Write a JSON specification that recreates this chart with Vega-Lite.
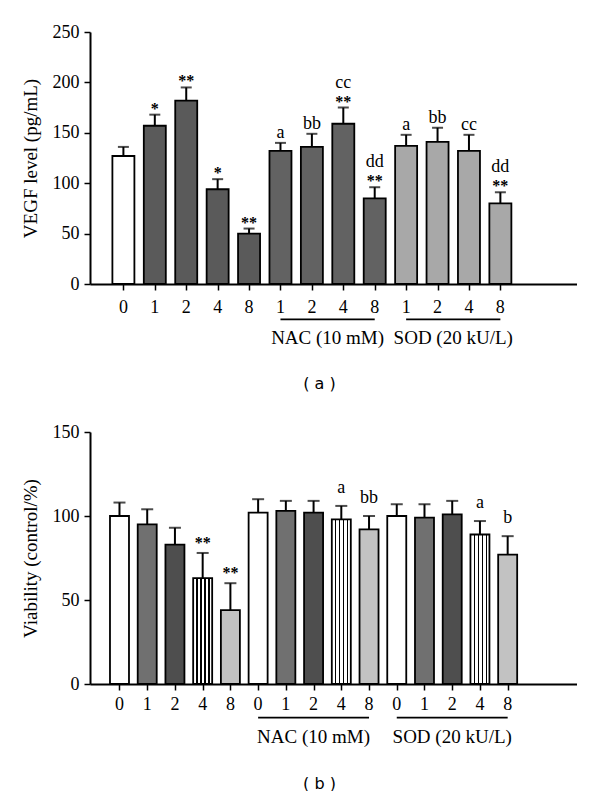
{
  "$schema": "https://vega.github.io/schema/vega-lite/v6.json",
  "padding": {"left": 21, "top": 23, "right": 0, "bottom": 0},
  "spacing": 32,
  "resolve": {"scale": {"fill": "independent"}},
  "config": {
    "view": {"stroke": null},
    "axis": {"grid": false, "domainColor": "black", "domainWidth": 2, "tickColor": "black", "tickWidth": 1.5, "tickSize": 6,
      "labelFont": "Liberation Serif", "labelFontSize": 18, "labelColor": "black",
      "titleFont": "Liberation Serif", "titleFontSize": 19, "titleFontWeight": "normal", "titleColor": "black"},
    "axisY": {"labelPadding": 5, "titlePadding": 12},
    "axisX": {"labels": false, "titleFont": "DejaVu Sans", "titleFontSize": 16, "titleBaseline": "middle", "titleAlign": "center", "titleY": 99, "titleX": 229},
    "text": {"font": "Liberation Serif", "color": "black"}
  },
  "datasets": {
    "vegf": [
      {"pos": 0, "conc": "0", "group": "", "pattern": "open", "value": 127, "upper": 136, "star": "", "letter": ""},
      {"pos": 1, "conc": "1", "group": "", "pattern": "checker", "value": 157, "upper": 168, "star": "*", "letter": ""},
      {"pos": 2, "conc": "2", "group": "", "pattern": "checker", "value": 182, "upper": 195, "star": "**", "letter": ""},
      {"pos": 3, "conc": "4", "group": "", "pattern": "checker", "value": 94, "upper": 104, "star": "*", "letter": ""},
      {"pos": 4, "conc": "8", "group": "", "pattern": "checker", "value": 50, "upper": 55, "star": "**", "letter": ""},
      {"pos": 5, "conc": "1", "group": "NAC (10 mM)", "pattern": "hatch", "value": 132, "upper": 140, "star": "", "letter": "a"},
      {"pos": 6, "conc": "2", "group": "NAC (10 mM)", "pattern": "hatch", "value": 136, "upper": 149, "star": "", "letter": "bb"},
      {"pos": 7, "conc": "4", "group": "NAC (10 mM)", "pattern": "hatch", "value": 159, "upper": 175, "star": "**", "letter": "cc"},
      {"pos": 8, "conc": "8", "group": "NAC (10 mM)", "pattern": "hatch", "value": 85, "upper": 96, "star": "**", "letter": "dd"},
      {"pos": 9, "conc": "1", "group": "SOD (20 kU/L)", "pattern": "cross", "value": 137, "upper": 148, "star": "", "letter": "a"},
      {"pos": 10, "conc": "2", "group": "SOD (20 kU/L)", "pattern": "cross", "value": 141, "upper": 155, "star": "", "letter": "bb"},
      {"pos": 11, "conc": "4", "group": "SOD (20 kU/L)", "pattern": "cross", "value": 132, "upper": 148, "star": "", "letter": "cc"},
      {"pos": 12, "conc": "8", "group": "SOD (20 kU/L)", "pattern": "cross", "value": 80, "upper": 91, "star": "**", "letter": "dd"}
    ],
    "viab": [
      {"pos": 0, "conc": "0", "group": "", "pattern": "open", "value": 100, "upper": 108, "star": "", "letter": ""},
      {"pos": 1, "conc": "1", "group": "", "pattern": "dots", "value": 95, "upper": 104, "star": "", "letter": ""},
      {"pos": 2, "conc": "2", "group": "", "pattern": "checker", "value": 83, "upper": 93, "star": "", "letter": ""},
      {"pos": 3, "conc": "4", "group": "", "pattern": "vlines", "value": 63, "upper": 78, "star": "**", "letter": ""},
      {"pos": 4, "conc": "8", "group": "", "pattern": "diag", "value": 44, "upper": 60, "star": "**", "letter": ""},
      {"pos": 5, "conc": "0", "group": "NAC (10 mM)", "pattern": "open", "value": 102, "upper": 110, "star": "", "letter": ""},
      {"pos": 6, "conc": "1", "group": "NAC (10 mM)", "pattern": "dots", "value": 103, "upper": 109, "star": "", "letter": ""},
      {"pos": 7, "conc": "2", "group": "NAC (10 mM)", "pattern": "checker", "value": 102, "upper": 109, "star": "", "letter": ""},
      {"pos": 8, "conc": "4", "group": "NAC (10 mM)", "pattern": "vlines", "value": 98, "upper": 106, "star": "", "letter": "a"},
      {"pos": 9, "conc": "8", "group": "NAC (10 mM)", "pattern": "diag", "value": 92, "upper": 100, "star": "", "letter": "bb"},
      {"pos": 10, "conc": "0", "group": "SOD (20 kU/L)", "pattern": "open", "value": 100, "upper": 107, "star": "", "letter": ""},
      {"pos": 11, "conc": "1", "group": "SOD (20 kU/L)", "pattern": "dots", "value": 99, "upper": 107, "star": "", "letter": ""},
      {"pos": 12, "conc": "2", "group": "SOD (20 kU/L)", "pattern": "checker", "value": 101, "upper": 109, "star": "", "letter": ""},
      {"pos": 13, "conc": "4", "group": "SOD (20 kU/L)", "pattern": "vlines", "value": 89, "upper": 97, "star": "", "letter": "a"},
      {"pos": 14, "conc": "8", "group": "SOD (20 kU/L)", "pattern": "diag", "value": 77, "upper": 88, "star": "", "letter": "b"}
    ]
  },
  "vconcat": [
    {
      "width": 487, "height": 252,
      "data": {"name": "vegf"},
      "encoding": {
        "x": {"field": "pos", "type": "quantitative", "title": "( a )", "scale": {"domain": [-0.904, 14.28], "nice": false, "zero": false},
          "axis": {"values": [0,1,2,3,4,5,6,7,8,9,10,11,12]}}
      },
      "layer": [
        {"mark": {"type": "rule", "color": "black", "strokeWidth": 2},
         "encoding": {"y": {"field": "value", "type": "quantitative", "title": "VEGF level (pg/mL)", "scale": {"domain": [0, 250], "nice": false}, "axis": {"values": [0, 50, 100, 150, 200, 250]}}, "y2": {"field": "upper"}}},
        {"mark": {"type": "tick", "orient": "horizontal", "color": "black", "thickness": 2, "size": 11},
         "encoding": {"y": {"field": "upper", "type": "quantitative", "title": "VEGF level (pg/mL)", "scale": {"domain": [0, 250], "nice": false}}}},
        {"mark": {"type": "bar", "width": 22, "stroke": "black", "strokeWidth": 1.8},
         "encoding": {"y": {"field": "value", "type": "quantitative", "title": "VEGF level (pg/mL)", "scale": {"domain": [0, 250], "nice": false}},
           "fill": {"field": "pattern", "type": "nominal", "legend": null, "scale": {"domain": ["open", "checker", "hatch", "cross"], "range": ["#ffffff", "#5a5a5a", "#626262", "#a8a8a8"]}}}},
        {"transform": [{"filter": "datum.star != ''"}],
         "mark": {"type": "text", "fontSize": 16, "fontWeight": "bold", "baseline": "alphabetic", "dy": -1},
         "encoding": {"y": {"field": "upper", "type": "quantitative", "title": "VEGF level (pg/mL)", "scale": {"domain": [0, 250], "nice": false}}, "text": {"field": "star"}}},
        {"transform": [{"filter": "datum.star == '' && datum.letter != ''"}],
         "mark": {"type": "text", "fontSize": 18, "baseline": "alphabetic", "dy": -5},
         "encoding": {"y": {"field": "upper", "type": "quantitative", "title": "VEGF level (pg/mL)", "scale": {"domain": [0, 250], "nice": false}}, "text": {"field": "letter"}}},
        {"transform": [{"filter": "datum.star != '' && datum.letter != ''"}],
         "mark": {"type": "text", "fontSize": 18, "baseline": "alphabetic", "dy": -20},
         "encoding": {"y": {"field": "upper", "type": "quantitative", "title": "VEGF level (pg/mL)", "scale": {"domain": [0, 250], "nice": false}}, "text": {"field": "letter"}}},
        {"mark": {"type": "text", "fontSize": 18, "baseline": "middle"},
         "encoding": {"y": {"datum": -24, "type": "quantitative", "scale": {"domain": [0, 250], "nice": false}}, "text": {"field": "conc"}}},
        {"transform": [{"filter": "datum.group != ''"}, {"aggregate": [{"op": "min", "field": "pos", "as": "x1"}, {"op": "max", "field": "pos", "as": "x2"}, {"op": "mean", "field": "pos", "as": "xm"}], "groupby": ["group"]}],
         "layer": [
           {"mark": {"type": "rule", "color": "black", "strokeWidth": 1.8},
            "encoding": {"x": {"field": "x1", "type": "quantitative", "title": "( a )", "scale": {"domain": [-0.904, 14.28], "nice": false, "zero": false}}, "x2": {"field": "x2"},
              "y": {"datum": -35, "type": "quantitative", "scale": {"domain": [0, 250], "nice": false}}}},
           {"mark": {"type": "text", "fontSize": 19, "baseline": "middle"},
            "encoding": {"x": {"field": "xm", "type": "quantitative", "title": "( a )", "scale": {"domain": [-0.904, 14.28], "nice": false, "zero": false}},
              "y": {"datum": -54, "type": "quantitative", "scale": {"domain": [0, 250], "nice": false}}, "text": {"field": "group"}}}
         ]},
        {"data": {"values": [{"label": "SAN concentration (μM)"}]},
         "mark": {"type": "text", "fontSize": 19, "baseline": "middle"},
         "encoding": {"x": {"datum": 6.48, "type": "quantitative", "scale": {"domain": [-0.904, 14.28], "nice": false, "zero": false}},
           "y": {"datum": 249, "type": "quantitative", "scale": {"domain": [0, 250], "nice": false}}, "text": {"field": "label"}}}
      ]
    },
    {
      "width": 487, "height": 252,
      "data": {"name": "viab"},
      "encoding": {
        "x": {"field": "pos", "type": "quantitative", "title": "( b )", "scale": {"domain": [-0.883, 16.32], "nice": false, "zero": false},
          "axis": {"values": [0,1,2,3,4,5,6,7,8,9,10,11,12,13,14]}}
      },
      "layer": [
        {"mark": {"type": "rule", "color": "black", "strokeWidth": 2},
         "encoding": {"y": {"field": "value", "type": "quantitative", "title": "Viability (control/%)", "scale": {"domain": [0, 150], "nice": false}, "axis": {"values": [0, 50, 100, 150]}}, "y2": {"field": "upper"}}},
        {"mark": {"type": "tick", "orient": "horizontal", "color": "black", "thickness": 2, "size": 12},
         "encoding": {"y": {"field": "upper", "type": "quantitative", "title": "Viability (control/%)", "scale": {"domain": [0, 150], "nice": false}}}},
        {"transform": [{"filter": "datum.pattern != 'vlines'"}],
         "mark": {"type": "bar", "width": 19, "stroke": "black", "strokeWidth": 1.8},
         "encoding": {"y": {"field": "value", "type": "quantitative", "title": "Viability (control/%)", "scale": {"domain": [0, 150], "nice": false}},
           "fill": {"field": "pattern", "type": "nominal", "legend": null, "scale": {"domain": ["open", "dots", "checker", "diag"], "range": ["#ffffff", "#707070", "#4e4e4e", "#c2c2c2"]}}}},
        {"transform": [{"filter": "datum.pattern == 'vlines'"}],
         "mark": {"type": "bar", "width": 19, "stroke": "black", "strokeWidth": 1.8,
           "fill": {"gradient": "linear", "x1": 0, "y1": 0, "x2": 1, "y2": 0, "stops": [
             {"offset": 0, "color": "#ffffff"}, {"offset": 0.17, "color": "#ffffff"}, {"offset": 0.17, "color": "#000000"}, {"offset": 0.24, "color": "#000000"},
             {"offset": 0.24, "color": "#ffffff"}, {"offset": 0.38, "color": "#ffffff"}, {"offset": 0.38, "color": "#000000"}, {"offset": 0.45, "color": "#000000"},
             {"offset": 0.45, "color": "#ffffff"}, {"offset": 0.59, "color": "#ffffff"}, {"offset": 0.59, "color": "#000000"}, {"offset": 0.66, "color": "#000000"},
             {"offset": 0.66, "color": "#ffffff"}, {"offset": 0.8, "color": "#ffffff"}, {"offset": 0.8, "color": "#000000"}, {"offset": 0.87, "color": "#000000"},
             {"offset": 0.87, "color": "#ffffff"}, {"offset": 1, "color": "#ffffff"}]}},
         "encoding": {"y": {"field": "value", "type": "quantitative", "title": "Viability (control/%)", "scale": {"domain": [0, 150], "nice": false}}}},
        {"transform": [{"filter": "datum.star != ''"}],
         "mark": {"type": "text", "fontSize": 16, "fontWeight": "bold", "baseline": "alphabetic", "dy": -5},
         "encoding": {"y": {"field": "upper", "type": "quantitative", "title": "Viability (control/%)", "scale": {"domain": [0, 150], "nice": false}}, "text": {"field": "star"}}},
        {"transform": [{"filter": "datum.letter != ''"}],
         "mark": {"type": "text", "fontSize": 18, "baseline": "alphabetic", "dy": -13},
         "encoding": {"y": {"field": "upper", "type": "quantitative", "title": "Viability (control/%)", "scale": {"domain": [0, 150], "nice": false}}, "text": {"field": "letter"}}},
        {"mark": {"type": "text", "fontSize": 18, "baseline": "middle"},
         "encoding": {"y": {"datum": -12.5, "type": "quantitative", "scale": {"domain": [0, 150], "nice": false}}, "text": {"field": "conc"}}},
        {"transform": [{"filter": "datum.group != ''"}, {"aggregate": [{"op": "min", "field": "pos", "as": "x1"}, {"op": "max", "field": "pos", "as": "x2"}, {"op": "mean", "field": "pos", "as": "xm"}], "groupby": ["group"]}],
         "layer": [
           {"mark": {"type": "rule", "color": "black", "strokeWidth": 1.8},
            "encoding": {"x": {"field": "x1", "type": "quantitative", "title": "( b )", "scale": {"domain": [-0.883, 16.32], "nice": false, "zero": false}}, "x2": {"field": "x2"},
              "y": {"datum": -20, "type": "quantitative", "scale": {"domain": [0, 150], "nice": false}}}},
           {"mark": {"type": "text", "fontSize": 19, "baseline": "middle"},
            "encoding": {"x": {"field": "xm", "type": "quantitative", "title": "( b )", "scale": {"domain": [-0.883, 16.32], "nice": false, "zero": false}},
              "y": {"datum": -31.5, "type": "quantitative", "scale": {"domain": [0, 150], "nice": false}}, "text": {"field": "group"}}}
         ]},
        {"data": {"values": [{"label": "SAN concentration (μM)"}]},
         "mark": {"type": "text", "fontSize": 19, "baseline": "middle"},
         "encoding": {"x": {"datum": 7.6, "type": "quantitative", "scale": {"domain": [-0.883, 16.32], "nice": false, "zero": false}},
           "y": {"datum": 149.5, "type": "quantitative", "scale": {"domain": [0, 150], "nice": false}}, "text": {"field": "label"}}}
      ]
    }
  ]
}
